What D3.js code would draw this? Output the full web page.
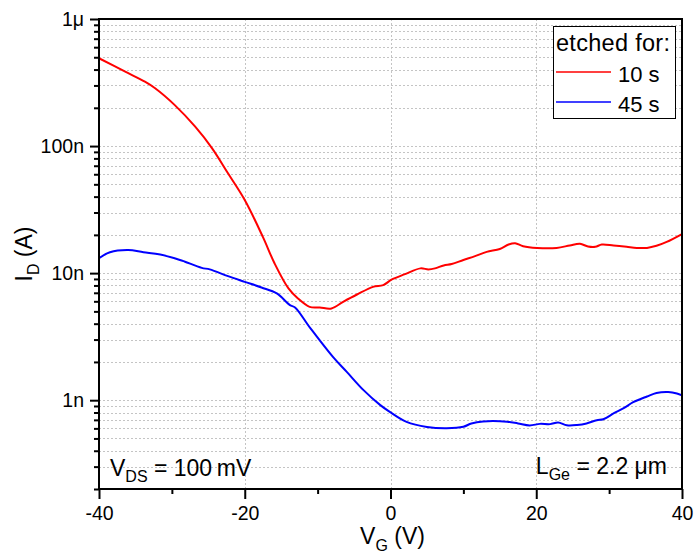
<!DOCTYPE html>
<html>
<head>
<meta charset="utf-8">
<script src="https://cdn.jsdelivr.net/npm/d3@7"></script>
<style>
  html, body { margin: 0; padding: 0; background: #fff; }
  svg { display: block; font-family: "Liberation Sans", Arial, sans-serif; }
</style>
</head>
<body>
<svg id="chart" width="694" height="555"></svg>
<script>
// Transfer characteristics: gate voltage (V) vs drain current (A)
const vg10 = [-40, -36.4, -33.7, -32.3, -29.6, -26.8, -24.5, -22.3, -20.0, -17.5, -15.9, -14.0, -12.7, -11.1, -9.7, -8.1,
  -6.5, -4.6, -2.4, -1.0, 0.2, 2.0, 4.1, 5.2, 6.1, 7.3, 8.4, 10.0, 11.6, 13.2, 15.0, 16.2, 17.1, 18.2, 20.1, 22.8,
  24.6, 26.0, 27.1, 28.1, 29.0, 30.6, 32.4, 33.8, 35.2, 36.5, 37.9, 40];
const id10 = [4.91e-7, 3.85e-7, 3.21e-7, 2.85e-7, 2.10e-7, 1.42e-7, 9.64e-8, 6.10e-8, 3.76e-8, 1.92e-8, 1.19e-8, 7.58e-9,
  6.32e-9, 5.43e-9, 5.37e-9, 5.27e-9, 5.94e-9, 6.79e-9, 7.80e-9, 8.05e-9, 8.92e-9, 9.82e-9, 1.09e-8, 1.07e-8, 1.09e-8,
  1.15e-8, 1.18e-8, 1.27e-8, 1.36e-8, 1.47e-8, 1.55e-8, 1.68e-8, 1.72e-8, 1.63e-8, 1.58e-8, 1.58e-8, 1.65e-8, 1.70e-8,
  1.62e-8, 1.61e-8, 1.68e-8, 1.65e-8, 1.61e-8, 1.58e-8, 1.58e-8, 1.64e-8, 1.76e-8, 2.03e-8];

const vg45 = [-40, -38.5, -36.0, -33.9, -31.6, -28.9, -28.2, -25.9, -24.8, -22.3, -20.0, -17.7, -15.6, -13.8, -13.1,
  -11.0, -7.9, -6.0, -3.7, -1.4, -0.1, 2.2, 5.0, 7.7, 10.0, 11.1, 12.7, 16.0, 17.5, 19.1, 20.5, 21.9, 23.0,
  24.2, 25.6, 26.9, 28.3, 29.2, 30.6, 32.0, 33.3, 35.2, 36.5, 38.1, 39.3, 40];
const id45 = [1.31e-8, 1.46e-8, 1.52e-8, 1.46e-8, 1.40e-8, 1.27e-8, 1.23e-8, 1.10e-8, 1.07e-8, 9.47e-9, 8.54e-9, 7.71e-9,
  6.92e-9, 5.60e-9, 5.37e-9, 3.69e-9, 2.19e-9, 1.67e-9, 1.20e-9, 9.14e-10, 8.09e-10, 6.75e-10,
  6.16e-10, 6.02e-10, 6.18e-10, 6.56e-10, 6.80e-10, 6.77e-10, 6.56e-10, 6.33e-10, 6.51e-10, 6.48e-10, 6.68e-10,
  6.35e-10, 6.38e-10, 6.56e-10, 6.96e-10, 7.08e-10, 7.86e-10, 8.65e-10, 9.64e-10, 1.07e-9, 1.14e-9, 1.16e-9, 1.13e-9,
  1.09e-9];

const seriesNames = ["10 s", "45 s"];
const seriesColors = ["#ff0000", "#0000ff"];

const xTickValues = [-40, -20, 0, 20, 40];
const xMinorValues = [-30, -10, 10, 30];
const yTickValues = [1e-9, 1e-8, 1e-7, 1e-6];
const yTickLabels = ["1n", "10n", "100n", "1μ"];

const svg = d3.select("#chart");
const m = { left: 99, right: 12, top: 19, bottom: 66 };
const W = 694, H = 555;
const pw = W - m.left - m.right, ph = H - m.top - m.bottom;

const x = d3.scaleLinear().domain([-40, 40]).range([0, pw]);
const y = d3.scaleLog().domain([2e-10, 1e-6]).range([ph, 0]);

const g = svg.append("g").attr("transform", `translate(${m.left},${m.top})`);

// dotted grid: every y tick (major + minor), x major ticks
const yAll = y.ticks();
g.append("g").selectAll("line").data(yAll).join("line")
  .attr("x1", 0).attr("x2", pw)
  .attr("y1", d => Math.round(y(d)) + 0.5).attr("y2", d => Math.round(y(d)) + 0.5)
  .attr("stroke", "#c4c4c4").attr("stroke-width", 1).attr("stroke-dasharray", "2,2");
g.append("g").selectAll("line").data(xTickValues.slice(1, -1)).join("line")
  .attr("x1", d => Math.round(x(d)) + 0.5).attr("x2", d => Math.round(x(d)) + 0.5)
  .attr("y1", 0).attr("y2", ph)
  .attr("stroke", "#c4c4c4").attr("stroke-width", 1).attr("stroke-dasharray", "2,2");

// data curves
g.append("clipPath").attr("id", "clip").append("rect").attr("width", pw).attr("height", ph);
const line = d3.line().x(d => x(d[0])).y(d => y(d[1])).curve(d3.curveCatmullRom.alpha(0.5));
const series = [d3.zip(vg10, id10), d3.zip(vg45, id45)];
g.append("g").attr("clip-path", "url(#clip)").selectAll("path").data(series).join("path")
  .attr("d", line).attr("fill", "none")
  .attr("stroke", (d, i) => seriesColors[i]).attr("stroke-width", 2).attr("stroke-linejoin", "round");

// axes
const xAxis = d3.axisBottom(x).tickValues(xTickValues).tickSize(10).tickPadding(7).tickFormat(d3.format("d"));
const xMinor = d3.axisBottom(x).tickValues(xMinorValues).tickSize(5).tickFormat("");
const yAxis = d3.axisLeft(y).tickValues(yTickValues).tickSize(9).tickPadding(6)
  .tickFormat((d, i) => yTickLabels[i]);
const yMinor = d3.axisLeft(y).tickValues(yAll.filter(v => !yTickValues.some(t => Math.abs(t - v) / v < 1e-6)))
  .tickSize(5).tickFormat("");

function styleAxis(sel) {
  sel.select(".domain").remove();
  sel.selectAll(".tick line").attr("stroke", "#000").attr("stroke-width", 2);
  sel.selectAll(".tick text").attr("fill", "#000").style("font-size", "19.5px")
    .style("font-family", "'Liberation Sans', Arial, sans-serif");
}
g.append("g").attr("transform", `translate(0,${ph})`).call(xAxis).call(styleAxis)
  .selectAll(".tick text").text(d => d < 0 ? "-" + Math.abs(d) : d);
g.append("g").attr("transform", `translate(0,${ph})`).call(xMinor).call(styleAxis);
g.append("g").call(yAxis).call(styleAxis);
g.append("g").call(yMinor).call(styleAxis);

// frame
g.append("rect").attr("x", 0).attr("y", 0).attr("width", pw).attr("height", ph)
  .attr("fill", "none").attr("stroke", "#000").attr("stroke-width", 2);

// axis titles
const xt = svg.append("text").attr("x", m.left + pw / 2 + 2).attr("y", 544)
  .attr("text-anchor", "middle").style("font-size", "23px");
xt.append("tspan").text("V");
xt.append("tspan").attr("dy", 7).style("font-size", "16px").text("G");
xt.append("tspan").attr("dy", -7).text(" (V)");

const yt = svg.append("text").attr("transform", `translate(32,${m.top + ph / 2}) rotate(-90)`)
  .attr("text-anchor", "middle").style("font-size", "23px");
yt.append("tspan").text("I");
yt.append("tspan").attr("dy", 7).style("font-size", "16px").text("D");
yt.append("tspan").attr("dy", -7).text(" (A)");

// annotations
const a1 = svg.append("text").attr("x", 110).attr("y", 476).style("font-size", "23px");
a1.append("tspan").text("V");
a1.append("tspan").attr("dy", 6).style("font-size", "16px").text("DS");
a1.append("tspan").attr("dy", -6).text(" = 100\u2009mV");

const a2 = svg.append("text").attr("x", 667).attr("y", 474).attr("text-anchor", "end").style("font-size", "23px");
a2.append("tspan").text("L");
a2.append("tspan").attr("dy", 6).style("font-size", "16px").text("Ge");
a2.append("tspan").attr("dy", -6).text(" = 2.2 μm");

// legend
const lg = svg.append("g");
lg.append("rect").attr("x", 553.5).attr("y", 26.5).attr("width", 122).attr("height", 92)
  .attr("fill", "#fff").attr("stroke", "#000").attr("stroke-width", 1);
lg.append("text").attr("x", 556).attr("y", 51).style("font-size", "23.5px")
  .attr("textLength", 114).attr("lengthAdjust", "spacing").text("etched for:");
seriesNames.forEach((name, i) => {
  const yy = 72 + i * 30;
  lg.append("line").attr("x1", 556).attr("x2", 611).attr("y1", yy).attr("y2", yy)
    .attr("stroke", seriesColors[i]).attr("stroke-width", 1.5);
  lg.append("text").attr("x", 618).attr("y", yy + 9.5).style("font-size", "22px").text(name);
});
</script>
</body>
</html>
